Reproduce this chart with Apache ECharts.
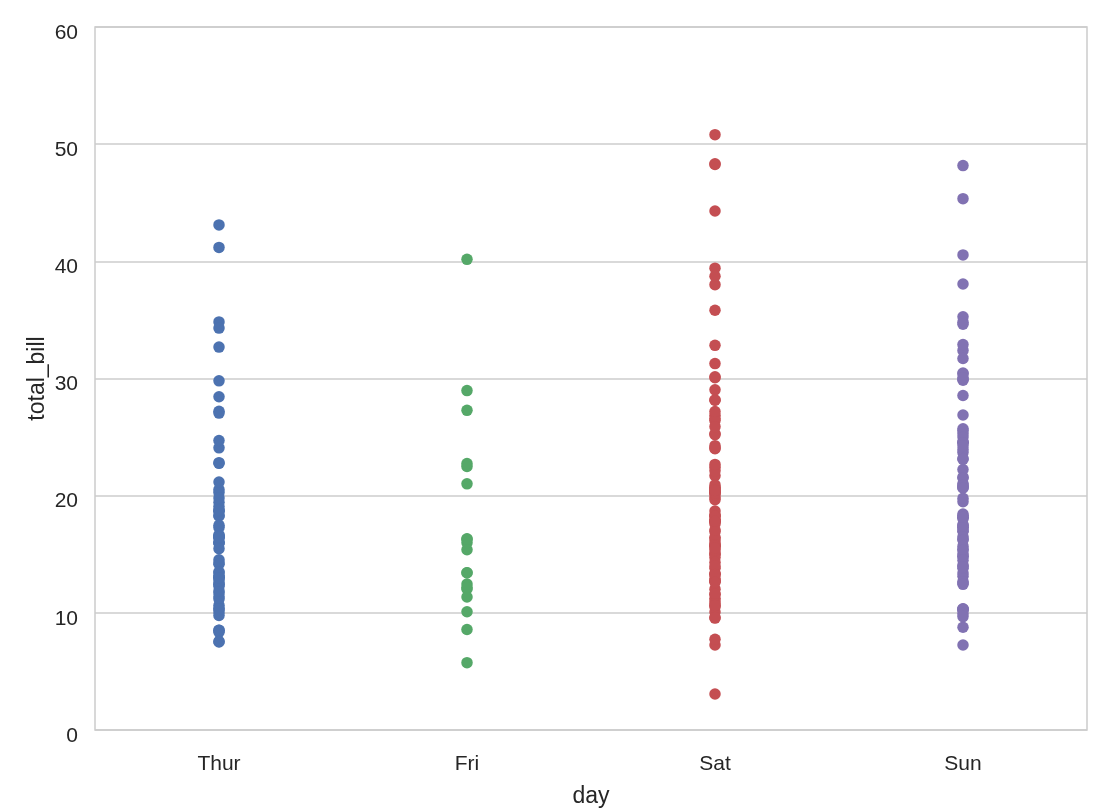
<!DOCTYPE html>
<html><head><meta charset="utf-8">
<script src="https://cdn.jsdelivr.net/npm/echarts@6/dist/echarts.min.js"></script>
<style>html,body{margin:0;padding:0;background:#fff}#c{width:1108px;height:808px}</style>
</head><body><div id="c"></div>
<script>
const days = ['Thur', 'Fri', 'Sat', 'Sun'];
const yTicks = [0, 10, 20, 30, 40, 50, 60];
const thur = [27.20, 22.76, 17.29, 19.44, 16.66, 10.07, 32.68, 15.98, 34.83, 13.03, 18.28,
  10.65, 12.43, 24.08, 11.69, 13.42, 14.26, 15.95, 12.48, 29.80, 8.52, 14.52, 11.38, 22.82,
  19.08, 20.27, 11.17, 12.26, 18.26, 8.51, 10.33, 14.15, 16.00, 13.16, 17.47, 34.30, 41.19,
  27.05, 16.43, 8.35, 18.64, 11.87, 9.78, 7.51, 28.44, 15.48, 16.58, 7.56, 10.34, 43.11,
  13.00, 13.51, 18.71, 12.74, 13.00, 16.40, 20.53, 16.47, 18.78, 24.71, 21.16, 19.81];
const fri = [28.97, 22.49, 5.75, 16.32, 22.75, 40.17, 27.28, 12.03, 21.01, 12.46, 11.35,
  15.38, 12.16, 13.42, 8.58, 15.98, 13.42, 16.27, 10.09];
const sat = [20.65, 17.92, 20.29, 15.77, 39.42, 19.82, 17.81, 13.37, 12.69, 21.70, 19.65,
  9.55, 18.35, 15.06, 20.69, 17.78, 24.06, 16.31, 16.93, 18.69, 31.27, 16.04, 38.01, 26.41,
  11.24, 48.27, 20.29, 13.81, 11.02, 18.29, 17.59, 20.08, 16.45, 3.07, 20.23, 15.01, 12.02,
  17.07, 26.86, 25.28, 14.73, 10.51, 17.92, 44.30, 22.42, 20.92, 15.36, 20.49, 25.21, 18.24,
  14.31, 14.00, 7.25, 50.81, 15.81, 26.59, 38.73, 24.27, 12.76, 30.06, 25.89, 48.33, 13.27,
  28.17, 12.90, 28.15, 11.59, 7.74, 30.14, 20.45, 13.28, 22.12, 24.01, 15.69, 11.61, 10.77,
  15.53, 10.07, 12.60, 32.83, 35.83, 29.03, 27.18, 22.67, 17.82, 10.63, 9.60];
const sun = [16.99, 10.34, 21.01, 23.68, 24.59, 25.29, 8.77, 26.88, 15.04, 14.78, 10.27,
  35.26, 15.42, 18.43, 14.83, 21.58, 10.33, 16.29, 16.97, 30.40, 18.29, 22.23, 32.40, 28.55,
  18.04, 12.54, 10.29, 34.81, 9.94, 25.56, 19.49, 38.07, 23.95, 25.71, 17.31, 29.93, 14.07,
  13.13, 17.26, 24.55, 19.77, 29.85, 48.17, 25.00, 13.39, 16.49, 21.50, 12.66, 16.21, 13.81,
  17.51, 24.52, 20.76, 31.71, 45.35, 23.17, 40.55, 20.69, 20.90, 30.46, 18.15, 23.10, 15.69,
  7.25, 34.63, 32.90, 15.36, 20.65, 17.46, 14.48, 13.94, 12.43, 24.27, 9.68, 30.06, 18.15];
const colors = ['#4C72B0', '#55A868', '#C44E52', '#8172B2'];
const groups = [thur, fri, sat, sun];

const font = '"Liberation Sans", Arial, sans-serif';
const chart = echarts.init(document.getElementById('c'));
chart.setOption({
  animation: false,
  backgroundColor: '#fff',
  grid: { left: 95, right: 21, top: 27, bottom: 78, containLabel: false, outerBoundsMode: 'none',
    show: true, borderColor: '#cccccc', borderWidth: 1.5, backgroundColor: '#fff' },
  xAxis: {
    type: 'category', data: days, boundaryGap: true,
    axisLine: { show: false }, axisTick: { show: false },
    axisLabel: { color: '#262626', fontSize: 21, fontFamily: font, margin: 24 },
    name: 'day', nameLocation: 'middle', nameGap: 55, nameMoveOverlap: false,
    nameTextStyle: { color: '#262626', fontSize: 23, fontFamily: font },
    splitLine: { show: false }
  },
  yAxis: {
    type: 'value', min: yTicks[0], max: yTicks[yTicks.length - 1], interval: 10,
    axisLine: { show: false }, axisTick: { show: false },
    axisLabel: { color: '#262626', fontSize: 21, fontFamily: font, margin: 17, verticalAlign: 'top', lineHeight: 12 },
    splitLine: { show: true, lineStyle: { color: '#cccccc', width: 1.5 } },
    name: 'total_bill', nameLocation: 'middle', nameGap: 46, nameMoveOverlap: false,
    nameTextStyle: { color: '#262626', fontSize: 23, fontFamily: font }
  },
  series: groups.map((g, i) => ({
    type: 'scatter', name: days[i],
    data: g.map(v => [days[i], v]),
    symbolSize: 11.5,
    itemStyle: { color: colors[i], opacity: 1 }
  }))
});
</script></body></html>
